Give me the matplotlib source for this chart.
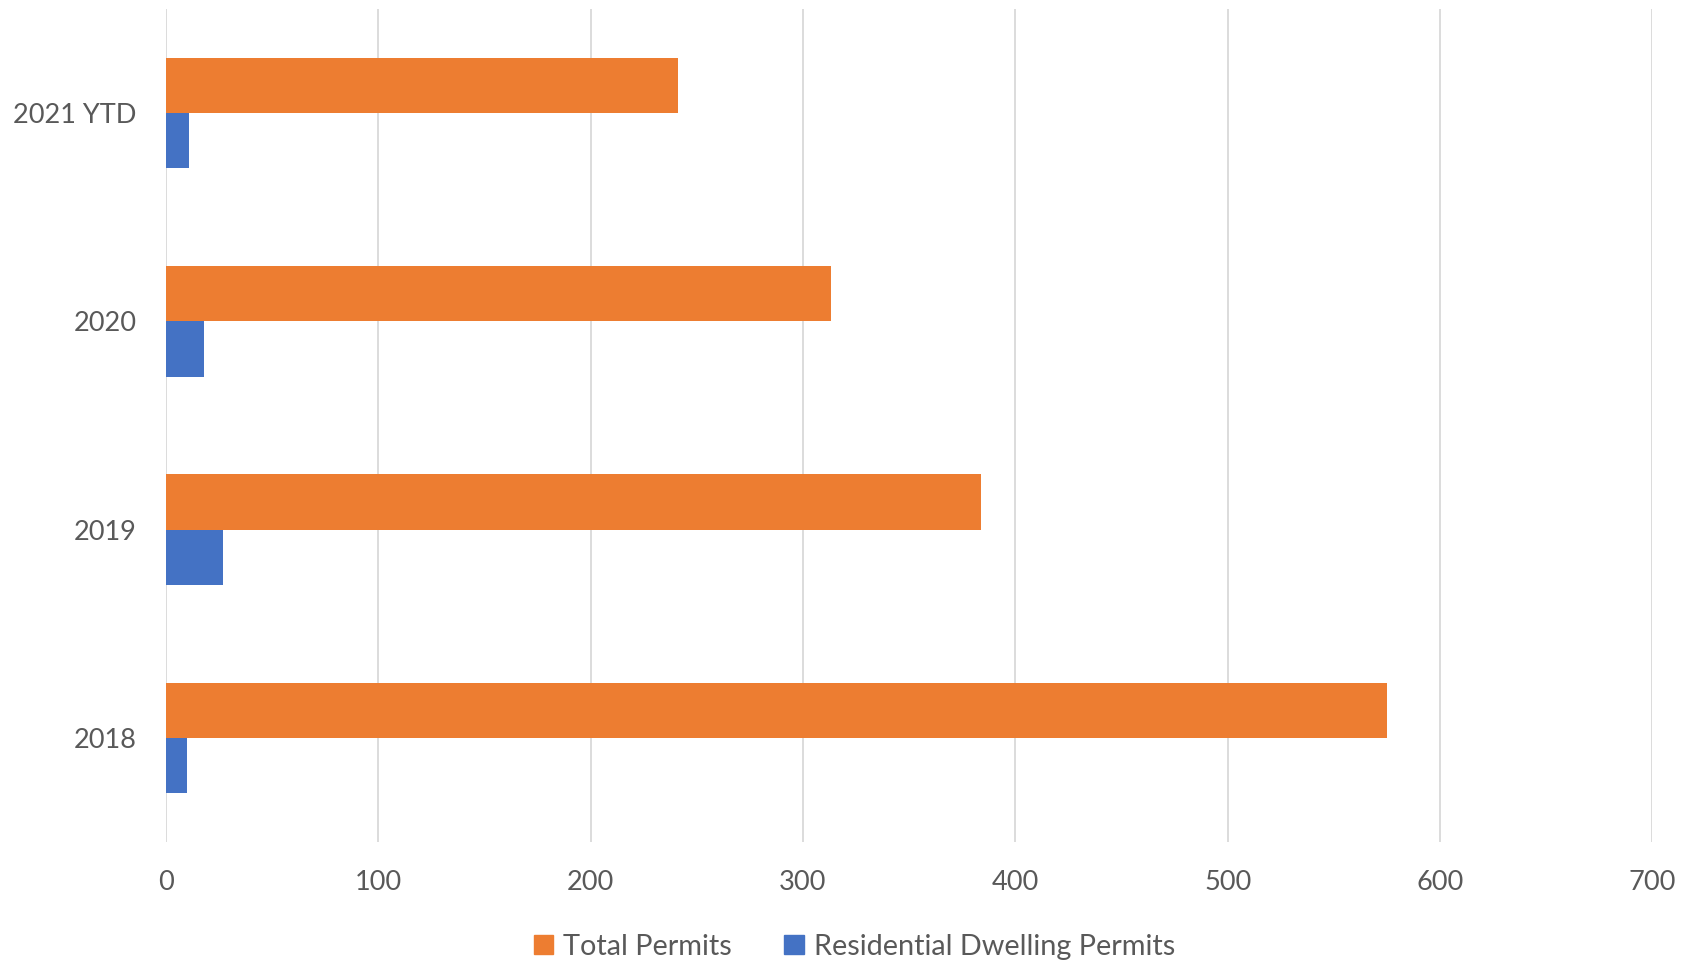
import numpy as np
from matplotlib import pyplot as plt
from matplotlib.patches import Patch

plt.rcParams['font.family'] = ['Lato', 'DejaVu Sans']

years = ["2018", "2019", "2020", "2021 YTD"]
total_permits = [575, 384, 313, 241]
residential_permits = [10, 27, 18, 11]
xticks = [0, 100, 200, 300, 400, 500, 600, 700]

orange = "#ED7D31"
blue = "#4472C4"
txt = "#595959"

fig = plt.figure(figsize=(16.82, 9.63), dpi=100)
ax = fig.add_axes([0.0987, 0.1257, 0.9823 - 0.0987, 0.9907 - 0.1257])

y = np.arange(len(years))
h = 0.265
ax.barh(y + h / 2, total_permits, height=h, color=orange, zorder=3)
ax.barh(y - h / 2, residential_permits, height=h, color=blue, zorder=3)

ax.set_xlim(0, 700)
ax.set_ylim(-0.5, len(years) - 0.5)
ax.set_xticks(xticks)
ax.set_yticks(y)
ax.set_yticklabels(years)
ax.grid(axis="x", color="#D9D9D9", linewidth=1.3, zorder=0)
ax.tick_params(axis="both", length=0, labelsize=19.5, labelcolor=txt)
ax.tick_params(axis="x", pad=20)
ax.tick_params(axis="y", pad=21)
for s in ax.spines.values():
    s.set_visible(False)

# legend sits under the plot, roughly centred on the figure
handles = [Patch(color=orange, label="Total Permits"),
           Patch(color=blue, label="Residential Dwelling Permits")]
fig.legend(handles=handles, loc="center", bbox_to_anchor=(0.508, 0.017), ncol=2,
           frameon=False, fontsize=20.8, labelcolor=txt, handlelength=0.68,
           handleheight=0.68, handletextpad=0.35, columnspacing=1.8)

fig.savefig("out.png", dpi=100)
